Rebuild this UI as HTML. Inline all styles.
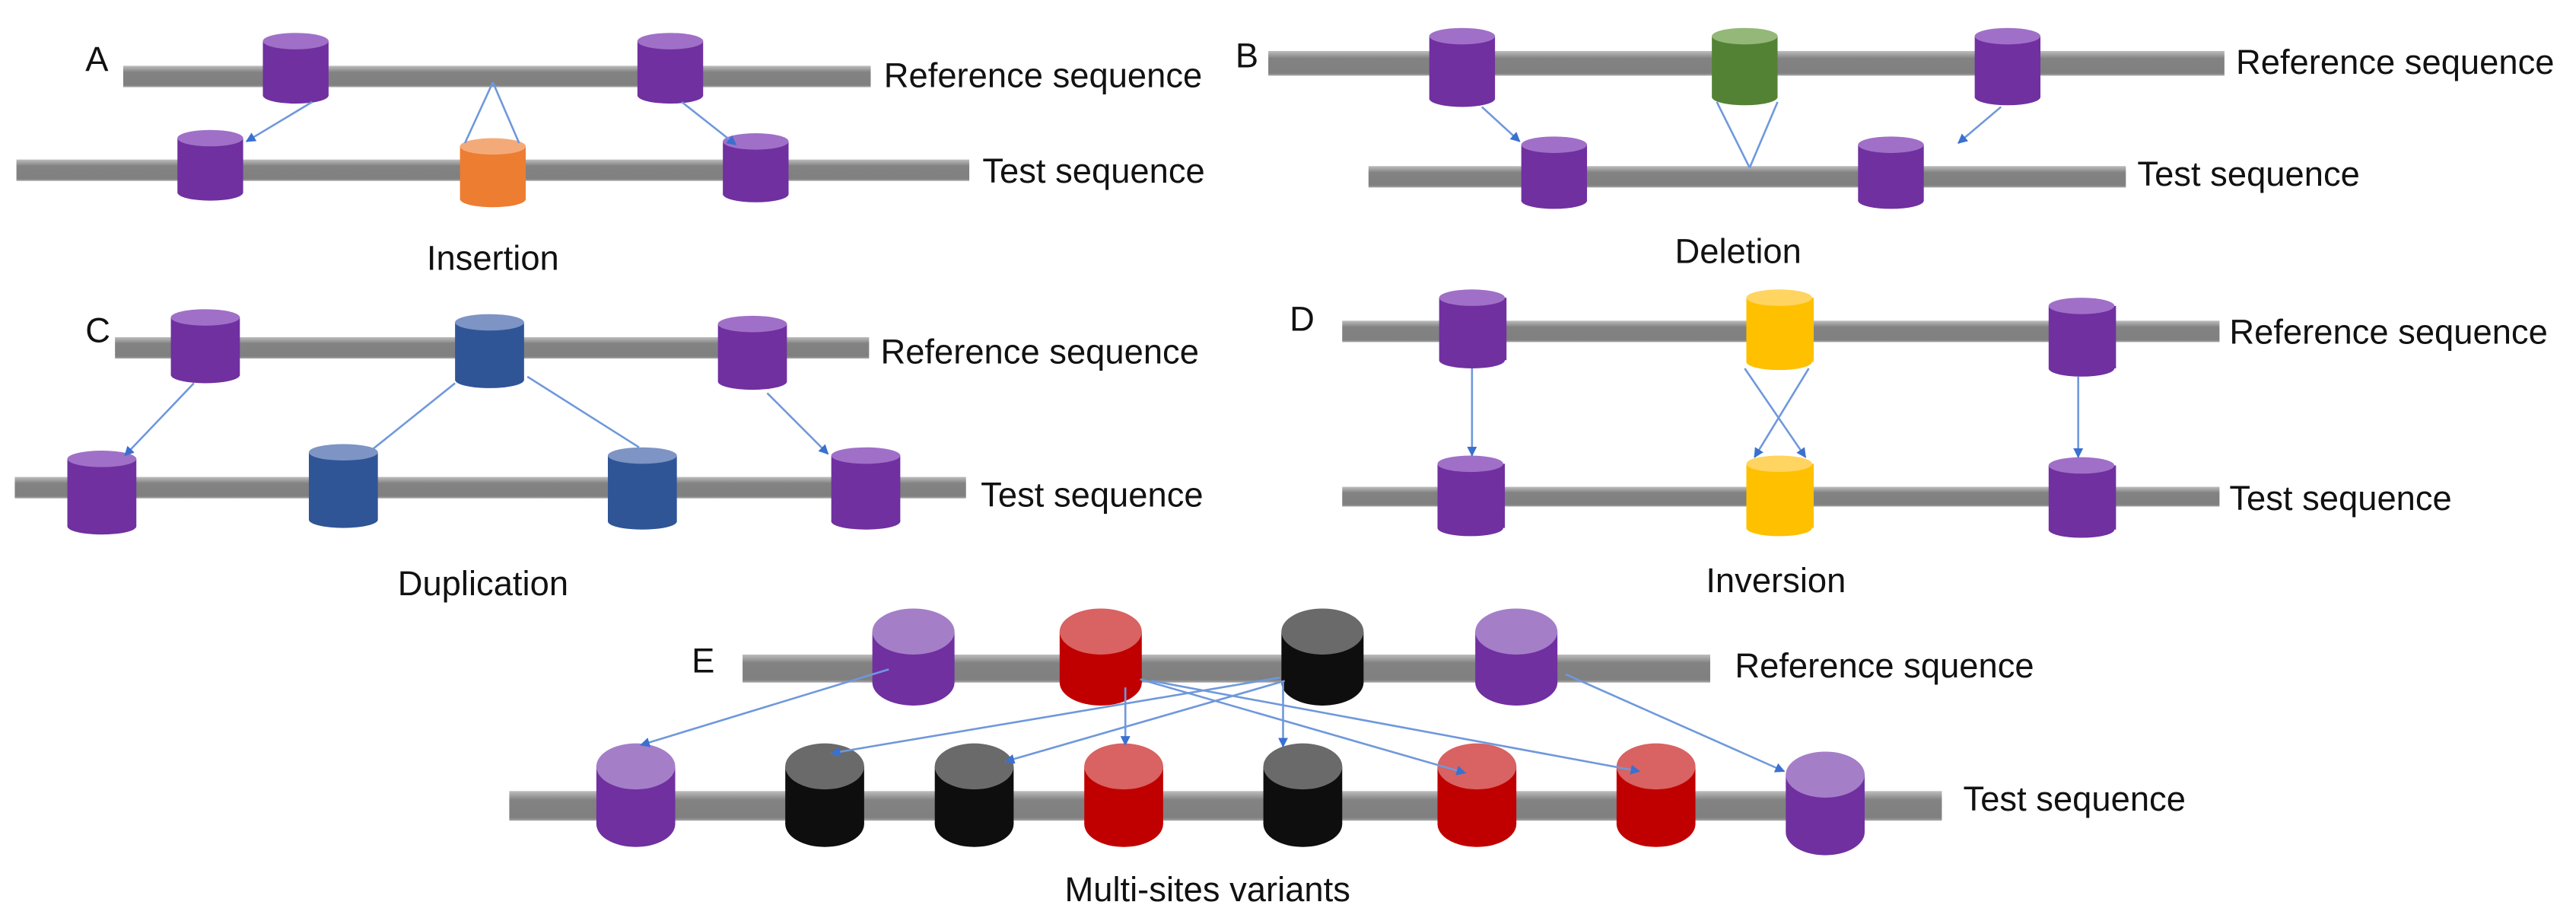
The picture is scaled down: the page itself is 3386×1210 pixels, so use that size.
<!DOCTYPE html>
<html><head><meta charset="utf-8"><style>
html,body{margin:0;padding:0;background:#fff;}
svg{display:block;}
text{font-family:"Liberation Sans",Arial,sans-serif;fill:#111;}
</style></head><body>
<svg width="3386" height="1210" viewBox="0 0 1568 560" preserveAspectRatio="none" xmlns="http://www.w3.org/2000/svg">
<defs>
<linearGradient id="bar" x1="0" y1="0" x2="0" y2="1">
<stop offset="0" stop-color="#bdbdbd"/><stop offset="0.18" stop-color="#9a9a9a"/><stop offset="0.3" stop-color="#828282"/><stop offset="0.9" stop-color="#808080"/><stop offset="1" stop-color="#a8a8a8"/>
</linearGradient>
<marker id="ar" viewBox="0 0 10 10" refX="9" refY="5" markerWidth="5" markerHeight="5" orient="auto"><path d="M0,0 L10,5 L0,10 z" fill="#3a70d0"/></marker>
</defs>
<g fill="url(#bar)">
<rect x="75" y="40" width="455" height="13"/>
<rect x="10" y="97" width="580" height="13"/>
<rect x="772" y="31" width="582" height="15"/>
<rect x="833" y="101" width="461" height="13"/>
<rect x="70" y="205" width="459" height="13"/>
<rect x="9" y="290" width="579" height="13"/>
<rect x="817" y="195" width="534" height="13"/>
<rect x="817" y="296" width="534" height="12"/>
<rect x="452" y="398" width="589" height="17"/>
<rect x="310" y="481" width="872" height="18"/>
</g>
<g id="cyls">
<g fill="#7030a0"><rect x="160" y="25" width="40" height="33"/><ellipse cx="180" cy="58" rx="20" ry="5"/></g><ellipse cx="180" cy="25" rx="20" ry="5" fill="#a070c8"/>
<g fill="#7030a0"><rect x="388" y="25" width="40" height="33"/><ellipse cx="408" cy="58" rx="20" ry="5"/></g><ellipse cx="408" cy="25" rx="20" ry="5" fill="#a070c8"/>
<g fill="#7030a0"><rect x="108" y="84" width="40" height="33"/><ellipse cx="128" cy="117" rx="20" ry="5"/></g><ellipse cx="128" cy="84" rx="20" ry="5" fill="#a070c8"/>
<g fill="#ed7d31"><rect x="280" y="89" width="40" height="32"/><ellipse cx="300" cy="121" rx="20" ry="5"/></g><ellipse cx="300" cy="89" rx="20" ry="5" fill="#f4aa78"/>
<g fill="#7030a0"><rect x="440" y="86" width="40" height="32"/><ellipse cx="460" cy="118" rx="20" ry="5"/></g><ellipse cx="460" cy="86" rx="20" ry="5" fill="#a070c8"/>
<g fill="#7030a0"><rect x="870" y="22" width="40" height="38"/><ellipse cx="890" cy="60" rx="20" ry="5"/></g><ellipse cx="890" cy="22" rx="20" ry="5" fill="#a070c8"/>
<g fill="#548235"><rect x="1042" y="22" width="40" height="37"/><ellipse cx="1062" cy="59" rx="20" ry="5"/></g><ellipse cx="1062" cy="22" rx="20" ry="5" fill="#93b878"/>
<g fill="#7030a0"><rect x="1202" y="22" width="40" height="37"/><ellipse cx="1222" cy="59" rx="20" ry="5"/></g><ellipse cx="1222" cy="22" rx="20" ry="5" fill="#a070c8"/>
<g fill="#7030a0"><rect x="926" y="88" width="40" height="34"/><ellipse cx="946" cy="122" rx="20" ry="5"/></g><ellipse cx="946" cy="88" rx="20" ry="5" fill="#a070c8"/>
<g fill="#7030a0"><rect x="1131" y="88" width="40" height="34"/><ellipse cx="1151" cy="122" rx="20" ry="5"/></g><ellipse cx="1151" cy="88" rx="20" ry="5" fill="#a070c8"/>
<g fill="#7030a0"><rect x="104" y="193" width="42" height="35"/><ellipse cx="125" cy="228" rx="21" ry="5"/></g><ellipse cx="125" cy="193" rx="21" ry="5" fill="#a070c8"/>
<g fill="#2f5597"><rect x="277" y="196" width="42" height="35"/><ellipse cx="298" cy="231" rx="21" ry="5"/></g><ellipse cx="298" cy="196" rx="21" ry="5" fill="#7d94c4"/>
<g fill="#7030a0"><rect x="437" y="197" width="42" height="35"/><ellipse cx="458" cy="232" rx="21" ry="5"/></g><ellipse cx="458" cy="197" rx="21" ry="5" fill="#a070c8"/>
<g fill="#7030a0"><rect x="41" y="279" width="42" height="41"/><ellipse cx="62" cy="320" rx="21" ry="5"/></g><ellipse cx="62" cy="279" rx="21" ry="5" fill="#a070c8"/>
<g fill="#2f5597"><rect x="188" y="275" width="42" height="41"/><ellipse cx="209" cy="316" rx="21" ry="5"/></g><ellipse cx="209" cy="275" rx="21" ry="5" fill="#7d94c4"/>
<g fill="#2f5597"><rect x="370" y="277" width="42" height="40"/><ellipse cx="391" cy="317" rx="21" ry="5"/></g><ellipse cx="391" cy="277" rx="21" ry="5" fill="#7d94c4"/>
<g fill="#7030a0"><rect x="506" y="277" width="42" height="40"/><ellipse cx="527" cy="317" rx="21" ry="5"/></g><ellipse cx="527" cy="277" rx="21" ry="5" fill="#a070c8"/>
<g fill="#7030a0"><rect x="876" y="181" width="41" height="38"/><ellipse cx="896" cy="219" rx="20" ry="5"/></g><ellipse cx="896" cy="181" rx="20" ry="5" fill="#a070c8"/>
<g fill="#ffc000"><rect x="1063" y="181" width="41" height="39"/><ellipse cx="1083" cy="220" rx="20" ry="5"/></g><ellipse cx="1083" cy="181" rx="20" ry="5" fill="#ffd460"/>
<g fill="#7030a0"><rect x="1247" y="186" width="41" height="38"/><ellipse cx="1267" cy="224" rx="20" ry="5"/></g><ellipse cx="1267" cy="186" rx="20" ry="5" fill="#a070c8"/>
<g fill="#7030a0"><rect x="875" y="282" width="41" height="39"/><ellipse cx="895" cy="321" rx="20" ry="5"/></g><ellipse cx="895" cy="282" rx="20" ry="5" fill="#a070c8"/>
<g fill="#ffc000"><rect x="1063" y="282" width="41" height="39"/><ellipse cx="1083" cy="321" rx="20" ry="5"/></g><ellipse cx="1083" cy="282" rx="20" ry="5" fill="#ffd460"/>
<g fill="#7030a0"><rect x="1247" y="283" width="41" height="39"/><ellipse cx="1267" cy="322" rx="20" ry="5"/></g><ellipse cx="1267" cy="283" rx="20" ry="5" fill="#a070c8"/>
<g fill="#7030a0"><rect x="531" y="384" width="50" height="31"/><ellipse cx="556" cy="415" rx="25" ry="14"/></g><ellipse cx="556" cy="384" rx="25" ry="14" fill="#a57ec8"/>
<g fill="#c00000"><rect x="645" y="384" width="50" height="31"/><ellipse cx="670" cy="415" rx="25" ry="14"/></g><ellipse cx="670" cy="384" rx="25" ry="14" fill="#d96262"/>
<g fill="#0e0e0e"><rect x="780" y="384" width="50" height="31"/><ellipse cx="805" cy="415" rx="25" ry="14"/></g><ellipse cx="805" cy="384" rx="25" ry="14" fill="#6a6a6a"/>
<g fill="#7030a0"><rect x="898" y="384" width="50" height="31"/><ellipse cx="923" cy="415" rx="25" ry="14"/></g><ellipse cx="923" cy="384" rx="25" ry="14" fill="#a57ec8"/>
<g fill="#7030a0"><rect x="363" y="466" width="48" height="35"/><ellipse cx="387" cy="501" rx="24" ry="14"/></g><ellipse cx="387" cy="466" rx="24" ry="14" fill="#a57ec8"/>
<g fill="#0e0e0e"><rect x="478" y="466" width="48" height="35"/><ellipse cx="502" cy="501" rx="24" ry="14"/></g><ellipse cx="502" cy="466" rx="24" ry="14" fill="#6a6a6a"/>
<g fill="#0e0e0e"><rect x="569" y="466" width="48" height="35"/><ellipse cx="593" cy="501" rx="24" ry="14"/></g><ellipse cx="593" cy="466" rx="24" ry="14" fill="#6a6a6a"/>
<g fill="#c00000"><rect x="660" y="466" width="48" height="35"/><ellipse cx="684" cy="501" rx="24" ry="14"/></g><ellipse cx="684" cy="466" rx="24" ry="14" fill="#d96262"/>
<g fill="#0e0e0e"><rect x="769" y="466" width="48" height="35"/><ellipse cx="793" cy="501" rx="24" ry="14"/></g><ellipse cx="793" cy="466" rx="24" ry="14" fill="#6a6a6a"/>
<g fill="#c00000"><rect x="875" y="466" width="48" height="35"/><ellipse cx="899" cy="501" rx="24" ry="14"/></g><ellipse cx="899" cy="466" rx="24" ry="14" fill="#d96262"/>
<g fill="#c00000"><rect x="984" y="466" width="48" height="35"/><ellipse cx="1008" cy="501" rx="24" ry="14"/></g><ellipse cx="1008" cy="466" rx="24" ry="14" fill="#d96262"/>
<g fill="#7030a0"><rect x="1087" y="471" width="48" height="35"/><ellipse cx="1111" cy="506" rx="24" ry="14"/></g><ellipse cx="1111" cy="471" rx="24" ry="14" fill="#a57ec8"/>
</g>
<g stroke="#6f98dc" stroke-width="1.2" fill="none">
<line x1="190" y1="62" x2="150" y2="86" marker-end="url(#ar)"/>
<line x1="300" y1="50" x2="283" y2="87"/><line x1="300" y1="50" x2="316" y2="87"/>
<line x1="415" y1="62" x2="448" y2="88" marker-end="url(#ar)"/>
<line x1="902" y1="65" x2="925" y2="86" marker-end="url(#ar)"/>
<line x1="1045" y1="62" x2="1065" y2="102"/><line x1="1082" y1="62" x2="1065" y2="102"/>
<line x1="1218" y1="65" x2="1192" y2="87" marker-end="url(#ar)"/>
<line x1="118" y1="233" x2="76" y2="277" marker-end="url(#ar)"/>
<line x1="277" y1="233" x2="227" y2="273"/><line x1="321" y1="229" x2="389" y2="272"/>
<line x1="467" y1="239" x2="504" y2="276" marker-end="url(#ar)"/>
<line x1="896" y1="224" x2="896" y2="277" marker-end="url(#ar)"/>
<line x1="1062" y1="224" x2="1099" y2="278" marker-end="url(#ar)"/>
<line x1="1101" y1="224" x2="1068" y2="278" marker-end="url(#ar)"/>
<line x1="1265" y1="229" x2="1265" y2="278" marker-end="url(#ar)"/>
<line x1="541" y1="407" x2="390" y2="453" marker-end="url(#ar)"/>
<line x1="685" y1="418" x2="685" y2="453" marker-end="url(#ar)"/>
<line x1="694" y1="413" x2="892" y2="470" marker-end="url(#ar)"/>
<line x1="701" y1="414" x2="998" y2="469" marker-end="url(#ar)"/>
<line x1="779" y1="412" x2="506" y2="458" marker-end="url(#ar)"/>
<line x1="782" y1="414" x2="612" y2="463" marker-end="url(#ar)"/>
<line x1="781" y1="414" x2="781" y2="454" marker-end="url(#ar)"/>
<line x1="953" y1="410" x2="1086" y2="469" marker-end="url(#ar)"/>
</g>
<g font-size="21">
<text x="52" y="43">A</text>
<text x="752" y="41">B</text>
<text x="52" y="208">C</text>
<text x="785" y="201">D</text>
<text x="421" y="409">E</text>
<text x="538" y="53">Reference sequence</text>
<text x="598" y="111">Test sequence</text>
<text x="1361" y="45">Reference sequence</text>
<text x="1301" y="113">Test sequence</text>
<text x="536" y="221">Reference sequence</text>
<text x="597" y="308">Test sequence</text>
<text x="1357" y="209">Reference sequence</text>
<text x="1357" y="310">Test sequence</text>
<text x="1056" y="412">Reference squence</text>
<text x="1195" y="493">Test sequence</text>
<g text-anchor="middle">
<text x="300" y="164">Insertion</text>
<text x="1058" y="160">Deletion</text>
<text x="294" y="362">Duplication</text>
<text x="1081" y="360">Inversion</text>
<text x="735" y="548">Multi-sites variants</text>
</g>
</g>
</svg>
</body></html>
